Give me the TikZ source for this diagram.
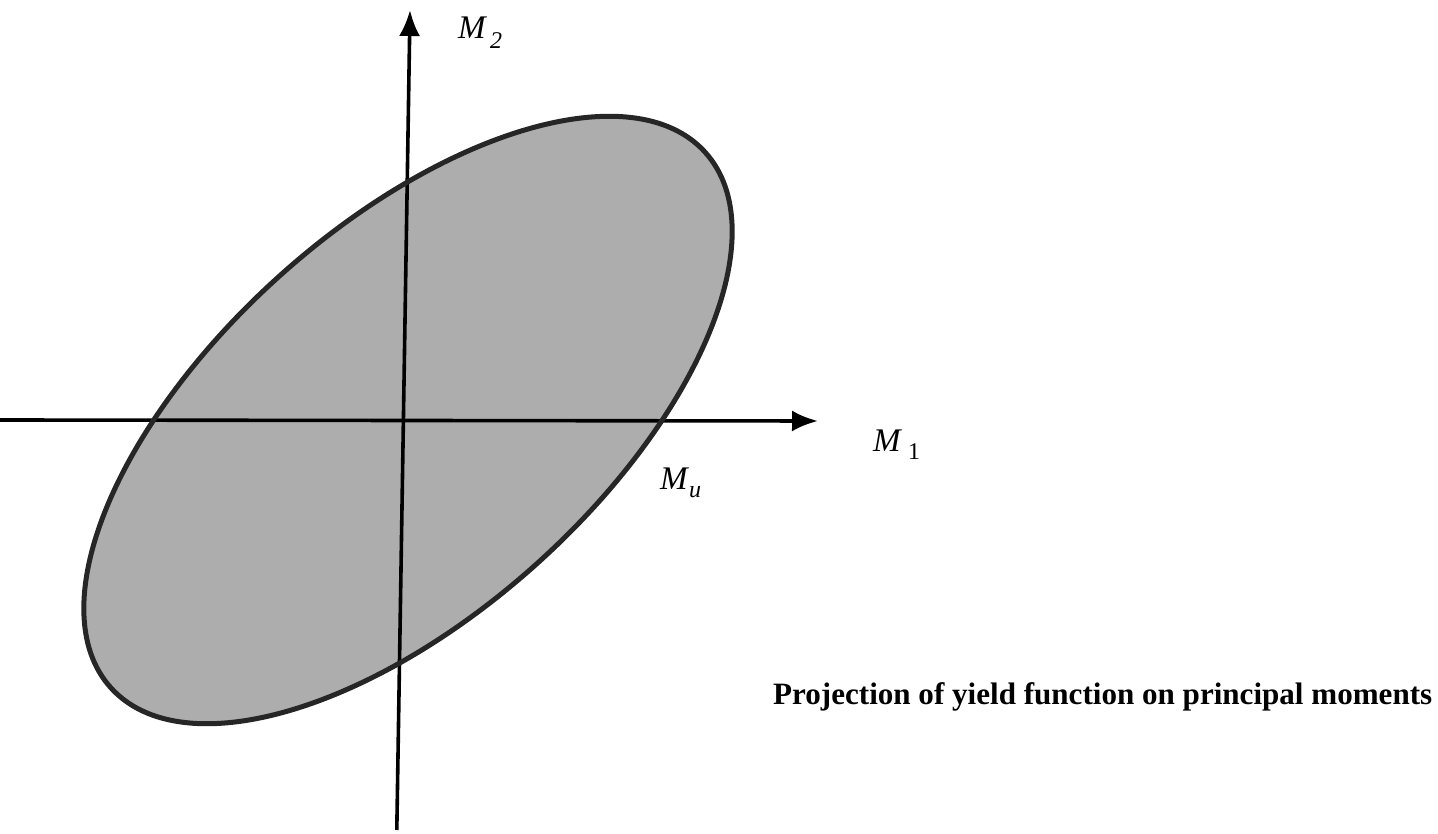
\documentclass[tikz,border=0pt]{standalone}
\usepackage{fontspec}
\setmainfont{Liberation Serif}
\usetikzlibrary{arrows.meta}
\newcommand{\lblfont}{\fontsize{33}{33}\selectfont}
\newcommand{\subfnt}{\fontsize{24}{24}\selectfont}
\tikzset{
  axisline/.style={line width=3.6pt, -{Latex[length=26pt,width=21pt]}},
  yieldcurve/.style={line width=5pt, draw=black!85},
  yieldfill/.style={fill=black!32},
  axlabel/.style={anchor=base west, inner sep=0pt, font=\lblfont},
  captionstyle/.style={anchor=base west, inner sep=0pt}
}
\begin{document}
\begin{tikzpicture}[x=1pt,y=1pt]
\useasboundingbox (0,0) rectangle (1438,833);
% named points
\coordinate (C) at (408,413);
\coordinate (xstart) at (0,413);
\coordinate (xend) at (818,412);
\coordinate (ystart) at (396.8,3);
\coordinate (yend) at (410,823);
% filled ellipse
\path[yieldfill, rotate around={42:(C)}] (C) ellipse [x radius=400pt, y radius=193pt];
% axes
\draw[axisline] (xstart) -- (xend);
\draw[axisline] (ystart) -- (yend);
% ellipse outline
\draw[yieldcurve, rotate around={42:(C)}] (C) ellipse [x radius=400pt, y radius=193pt];
% labels
\node[axlabel] (m2) at (458,794) {\textit{M}\kern3pt\raisebox{-10pt}{\subfnt\itshape 2}};
\node[axlabel] (m1) at (873,381) {\textit{M}\kern6pt\raisebox{-8pt}{\subfnt 1}};
\node[axlabel] (mu) at (660,343) {\textit{M}\kern0pt\raisebox{-8pt}{\subfnt\itshape u}};
\node[captionstyle] (cap) at (773,128) {\resizebox{659pt}{!}{\fontsize{31}{31}\selectfont\bfseries Projection of yield function on principal moments}};
\end{tikzpicture}
\end{document}
